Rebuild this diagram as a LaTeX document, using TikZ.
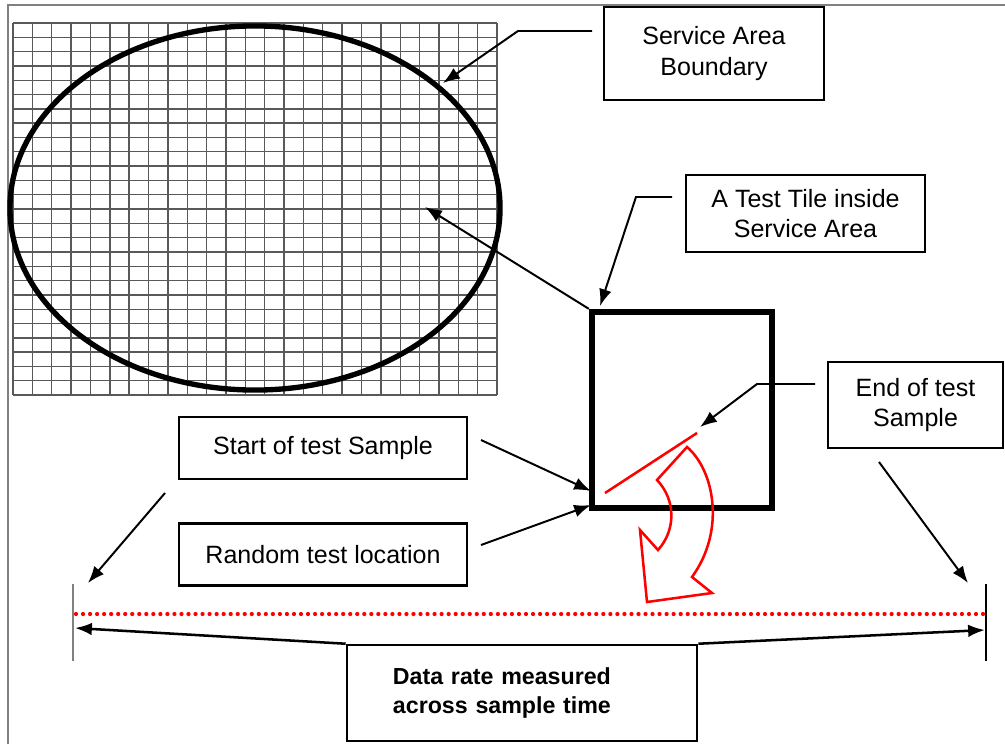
\documentclass[tikz,border=0pt]{standalone}
\usepackage{fontspec}
\setmainfont{Liberation Sans}
\usetikzlibrary{arrows.meta}
\begin{document}
\begin{tikzpicture}[x=0.025cm,y=-0.025cm,
  box/.style={draw,line width=1.8pt,align=center,inner sep=0pt,font=\fontsize{17.8}{21.5}\selectfont},
  lead/.style={line width=1.4pt,-{Latex[length=12pt,width=9pt]}},
  gridline/.style={black!65,line width=1pt}]
\useasboundingbox (0,0) rectangle (1005,744);
\draw[gray,line width=1.5pt] (8,744) -- (8,5) -- (1005,5);
\foreach \i in {0,...,25} \draw[gridline] ({13+\i*19.36},23) -- ({13+\i*19.36},395);
\foreach \j in {0,...,26} \draw[gridline] (13,{23+\j*14.31}) -- (497,{23+\j*14.31});
\draw[line width=3.8pt] (255,208) ellipse [x radius=6.125cm, y radius=4.55cm];
\node[box,minimum width=5.5cm,minimum height=2.325cm] at (714,53.5) (sab) {Service Area\\Boundary};
\node[box,minimum width=5.975cm,minimum height=1.925cm] at (805.5,213.5) (tlab) {A Test Tile inside\\Service Area};
\node[box,minimum width=4.375cm,minimum height=2.15cm] at (915.5,405) (end) {End of test\\Sample};
\node[box,minimum width=7.2cm,minimum height=1.55cm] at (323,448) (start) {Start of test Sample};
\node[box,minimum width=7.2cm,minimum height=1.55cm] at (323,554.5) (rand) {Random test location};
\node[box,minimum height=2.4cm,inner xsep=1.15cm,text width=6.45cm,align=left,font=\fontsize{16.5}{21}\selectfont\bfseries] at (522,693) (data) {Data rate measured\\across sample time};
\node[draw,line width=4.5pt,minimum width=4.5cm,minimum height=4.9cm] at (682,410) (tile) {};
\coordinate (sabs) at (592,31);
\coordinate (sabk) at (518,31);
\coordinate (sabt) at (443,83);
\coordinate (tlabs) at (672,197);
\coordinate (tlabk) at (636,197);
\coordinate (tlabt) at (600,306);
\coordinate (gridpt) at (425,207);
\coordinate (ends) at (815,384);
\coordinate (endk) at (757,384);
\coordinate (endt) at (700,427);
\coordinate (ends2) at (879,462);
\coordinate (endt2) at (968,583);
\coordinate (starts) at (481,440);
\coordinate (startt) at (591,491);
\coordinate (rands) at (481,545);
\coordinate (randt) at (591,505);
\coordinate (starts2) at (165,493);
\coordinate (startt2) at (88,583);
\coordinate (la) at (75,628);
\coordinate (ra) at (985,630);
\draw[lead] (sabs) -- (sabk) -- (sabt);
\draw[lead] (tlabs) -- (tlabk) -- (tlabt);
\draw[lead] (tile.north west) -- (gridpt);
\draw[lead] (ends) -- (endk) -- (endt);
\draw[lead] (ends2) -- (endt2);
\draw[lead] (starts) -- (startt);
\draw[lead] (rands) -- (randt);
\draw[lead] (starts2) -- (startt2);
\draw[gray,line width=1.4pt] (73,584) -- (73,661);
\draw[line width=1.4pt] (986,584) -- (986,661);
\draw[line width=1.8pt,-{Latex[length=12pt,width=9pt]}] (data.north west) -- (la);
\draw[line width=1.8pt,-{Latex[length=12pt,width=9pt]}] (data.north east) -- (ra);
\draw[red,line width=3pt,line cap=round,dash pattern=on 0pt off 5pt] (76,614) -- (984,614);
\draw[red,line width=1.8pt] (605,493) -- (697,433);
\draw[red,line width=1.8pt] (687,447) .. controls (714,470) and (726,530) .. (692,577) -- (712,593) -- (647,602) -- (640,530) -- (658,550) .. controls (676,530) and (676,500) .. (657,480) -- cycle;
\end{tikzpicture}
\end{document}
